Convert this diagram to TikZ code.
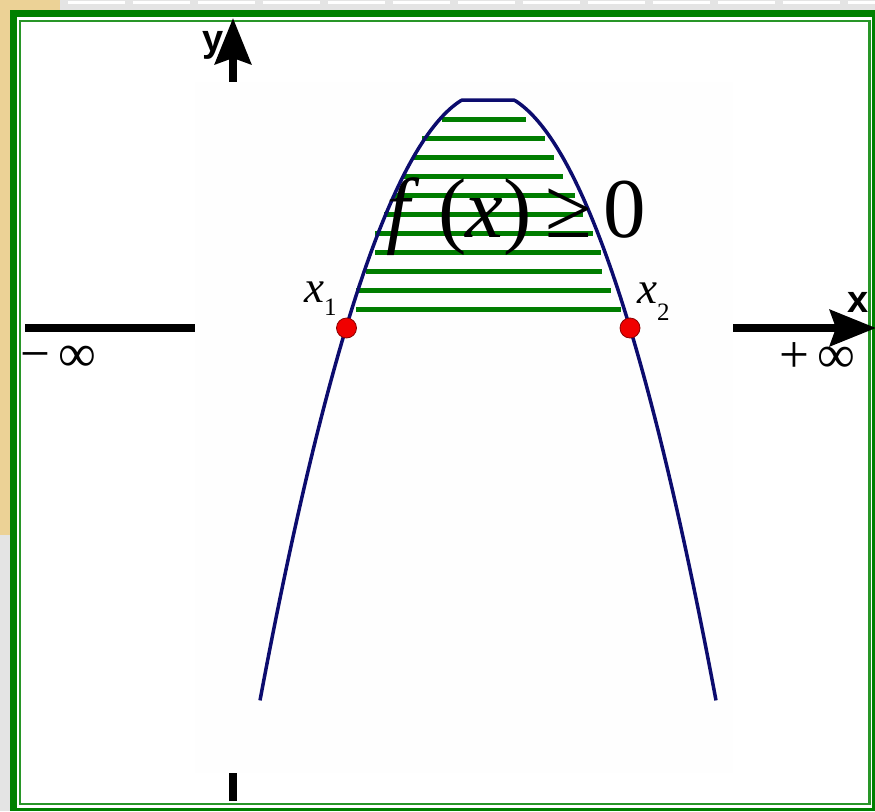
\documentclass[tikz,border=0pt]{standalone}
\usepackage{fontspec}
\setmainfont{Liberation Serif}
\newfontfamily\axfont{Liberation Sans}
\usetikzlibrary{arrows.meta}
\definecolor{framegreen}{RGB}{0,128,0}
\definecolor{thingreen}{RGB}{40,150,40}
\definecolor{hatchgreen}{RGB}{0,125,0}
\definecolor{curvenavy}{RGB}{12,12,110}
\definecolor{woodtan}{RGB}{236,210,150}
\definecolor{brickgray}{RGB}{228,228,228}
\definecolor{graphbg}{RGB}{254,254,254}
\definecolor{dotred}{RGB}{240,0,0}
\tikzset{
  axisline/.style={line width=8pt, black},
  axisarrow/.style={line width=8pt, black, -{Stealth[length=46pt, width=36pt, inset=6pt]}},
  hatchline/.style={line width=5pt, hatchgreen},
  curveline/.style={line width=3.5pt, curvenavy, line join=round},
  rootdot/.style={circle, fill=dotred, draw=red!55!black, line width=0.8pt, minimum size=20pt, inner sep=0pt},
  bigmath/.style={inner sep=0pt, font=\fontsize{85}{90}\selectfont},
  rootlabel/.style={inner sep=0pt, font=\fontsize{45}{50}\selectfont},
  inflabel/.style={inner sep=0pt, font=\fontsize{53}{56}\selectfont},
  axlabel/.style={inner sep=0pt, font=\axfont\bfseries\fontsize{38}{40}\selectfont}
}
\begin{document}
\begin{tikzpicture}[x=1pt, y=-1pt]
\useasboundingbox (0,0) rectangle (875,811);
\clip (0,0) rectangle (875,811);
% outside background
\fill[brickgray] (0,0) rectangle (875,811);
\foreach \xx in {0,65,...,875} {
  \fill[white] (\xx+3,1) rectangle (\xx+60,4);
}
\fill[woodtan] (0,0) rectangle (60,10);
\fill[woodtan] (0,0) rectangle (10,535);
% frame
\fill[framegreen] (10,10) rectangle (875,811);
\fill[white] (17,17) rectangle (872,808);
\draw[thingreen, line width=2.5pt] (20,21) rectangle (869.5,804);
% axes
\draw[axisline] (25,328) -- (733,328);
\draw[axisarrow] (733,328) -- (876,328);
\draw[axisline] (233,801) -- (233,60);
\draw[axisarrow] (233,82) -- (233,18);
% graph region (covers axes)
\fill[graphbg] (195,82) rectangle (733,773);
% hatch lines
\foreach \yy/\aa/\bb in {119/442/526, 138/422/545, 157/413/554, 176/403/563,
  195/393/575, 214/384/583, 233/375/593, 252/375/601, 271/366/602,
  290/356/611, 309/356/621} {
  \draw[hatchline] (\aa,\yy) -- (\bb,\yy);
}
% parabola
\draw[curveline] plot[domain=260:716, samples=240] (\x, {max(92+0.0117*(\x-488)*(\x-488),100)});
% roots
\node[rootdot] (r1) at (346.5,328) {};
\node[rootdot] (r2) at (630,328) {};
% labels
\node[bigmath, anchor=base west] (fx) at (386,237)
  {\makebox[52pt][l]{\itshape f}\makebox[27pt][l]{(}\makebox[38pt][l]{\itshape x}\makebox[42pt][l]{)}\makebox[58pt][l]{≥}0};
\node[rootlabel, anchor=base west] (x1) at (304,302) {\itshape x\raisebox{-13pt}{\upshape\fontsize{25}{25}\selectfont 1}};
\node[rootlabel, anchor=base west] (x2) at (637,303) {\itshape x\raisebox{-17pt}{\upshape\fontsize{25}{25}\selectfont 2}};
\node[inflabel, anchor=base west] (minf) at (20,371) {−\,∞};
\node[inflabel, anchor=base west] (pinf) at (779,372) {+\,∞};
\node[axlabel, anchor=base west] (xl) at (847,312) {x};
\node[axlabel, anchor=base west] (yl) at (202,51) {y};
\end{tikzpicture}
\end{document}
